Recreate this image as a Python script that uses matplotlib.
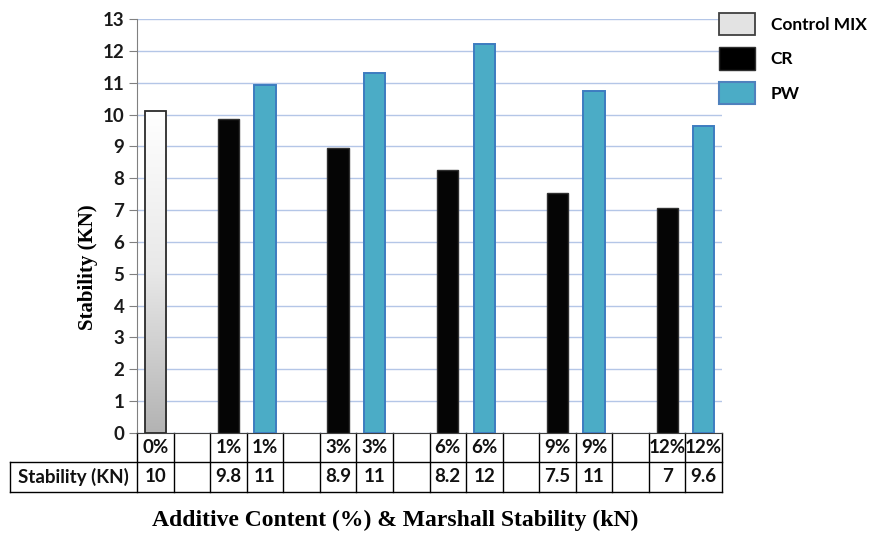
import matplotlib
matplotlib.use('Agg')
import matplotlib.pyplot as plt
import numpy as np
from matplotlib.patches import Patch
from matplotlib.colors import LinearSegmentedColormap
from matplotlib.transforms import blended_transform_factory

# data
contents = ['0%', '1%', '3%', '6%', '9%', '12%']
control_val = 10.1
cr_vals = [9.85, 8.95, 8.25, 7.55, 7.05]
pw_vals = [10.93, 11.32, 12.22, 10.75, 9.65]
control_lbl = '10'
cr_lbls = ['9.8', '8.9', '8.2', '7.5', '7']
pw_lbls = ['11', '11', '12', '11', '9.6']
row_header = 'Stability (KN)'
legend_labels = ['Control MIX', 'CR', 'PW']

plt.rcParams['font.family'] = ['Lato', 'DejaVu Sans']

fig = plt.figure(figsize=(8.8, 5.33), dpi=100)
ax = fig.add_axes([137/880, 1-433/533, 585/880, 414/533])

ncol = 3*len(cr_vals) + 1
ctrl_x = 0.5
cr_x = [3*k + 2.5 for k in range(len(cr_vals))]
pw_x = [3*k + 3.5 for k in range(len(pw_vals))]
w = 0.58

# control bar with a vertical grey gradient
ctrl = ax.bar(ctrl_x, control_val, w, facecolor='none', edgecolor='#2b2b2b', lw=1.3, zorder=4)
gcm = LinearSegmentedColormap.from_list('g', ['#ffffff', '#e8e8e8', '#b3b3b3'])
for p in ctrl:
    x0 = p.get_x(); x1 = x0 + p.get_width(); h = p.get_height()
    im = ax.imshow(np.linspace(0, 1, 256).reshape(-1, 1), cmap=gcm, aspect='auto',
                   extent=[x0, x1, 0, h], origin='upper', zorder=3)
    im.set_clip_path(p)

ax.bar(cr_x, cr_vals, w, color='#050505', edgecolor='#303030', lw=1.0, zorder=3)
ax.bar(pw_x, pw_vals, w, color='#4bacc6', edgecolor='#3d7cc0', lw=1.4, zorder=3)

ax.set_xlim(0, ncol)
ax.set_ylim(0, 13)
ax.set_yticks(range(0, 14))
ax.set_xticks([])
ax.yaxis.grid(True, color='#b4c6e7', lw=1.0)
ax.set_axisbelow(True)
for s in ['top', 'right']:
    ax.spines[s].set_visible(False)
ax.spines['left'].set_color('#808080')
ax.spines['bottom'].set_color('#404040')
ax.tick_params(axis='y', length=6, color='#808080', labelsize=13.5, pad=3)
for t in ax.get_yticklabels():
    t.set_fontweight('bold')
    t.set_color('#1a1a1a')

ax.set_ylabel('Stability (KN)', family='Liberation Serif', fontweight='bold', fontsize=15)
ax.yaxis.set_label_coords(-0.066, 0.40)

# table below the axis
tr = blended_transform_factory(ax.transData, ax.transAxes)
r1 = -29/414
r2 = -59/414
xh = (10 - 137) / (585/ncol)
lk = dict(color='black', lw=1.0, transform=tr, clip_on=False)
for i in range(ncol + 1):
    ax.plot([i, i], [r2, 0], **lk)
ax.plot([xh, xh], [r2, r1], **lk)
ax.plot([xh, ncol], [r1, r1], **lk)
ax.plot([xh, ncol], [r2, r2], **lk)

tk = dict(transform=tr, ha='center', va='center', fontsize=13.5, fontweight='bold', color='#111111')
ax.text(ctrl_x, r1/2, contents[0], **tk)
ax.text(ctrl_x, (r1+r2)/2, control_lbl, **tk)
for k in range(len(cr_x)):
    ax.text(cr_x[k], r1/2, contents[k+1], **tk)
    ax.text(pw_x[k], r1/2, contents[k+1], **tk)
    ax.text(cr_x[k], (r1+r2)/2, cr_lbls[k], **tk)
    ax.text(pw_x[k], (r1+r2)/2, pw_lbls[k], **tk)
ax.text(xh/2, (r1+r2)/2, row_header, **tk)

fig.text(395/880, 1-520/533, 'Additive Content (%) & Marshall Stability (kN)',
         family='Liberation Serif', fontweight='bold', fontsize=17, ha='center', va='center')

handles = [Patch(facecolor='#e3e3e3', edgecolor='#404040', lw=1.3),
           Patch(facecolor='black', edgecolor='#303030', lw=1.0),
           Patch(facecolor='#4bacc6', edgecolor='#4f81bd', lw=1.5)]
fig.legend(handles, legend_labels, loc='upper left', bbox_to_anchor=(703/880, 1.005),
           frameon=False, prop=dict(weight='bold', size=12.5),
           handlelength=2.1, handleheight=1.6, labelspacing=0.7, handletextpad=0.9)

plt.savefig('out.png', dpi=100)
